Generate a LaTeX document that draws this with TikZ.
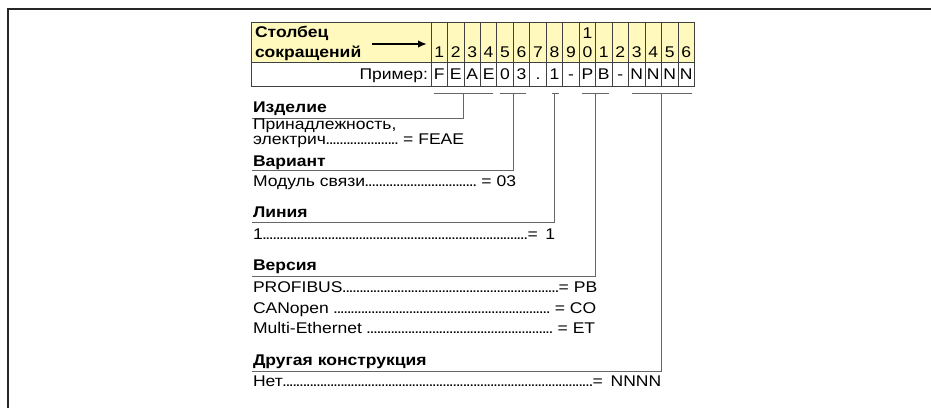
\documentclass[tikz,border=0pt]{standalone}
\usepackage{fontspec}
\setmainfont{Liberation Sans}[FakeStretch=1.13]
\usetikzlibrary{arrows.meta}
\definecolor{hdr}{HTML}{FFF9BD}
\newcommand{\fsz}{\fontsize{15.5pt}{15.5pt}\selectfont}
\newcommand{\dotlead}{\xleaders\hbox to 3.4pt{\hss.\hss}\hfill}
\begin{document}
\begin{tikzpicture}[x=1pt,y=-1pt,
  txt/.style={inner sep=0pt, outer sep=0pt, font=\fsz},
  bld/.style={txt, font=\fsz\bfseries},
  grid/.style={draw=black!75, line width=0.8pt},
  brk/.style={draw=black!60, line width=0.9pt},
  frame/.style={draw=black!85, line width=1.6pt}]
\useasboundingbox (0,0) rectangle (931,408);
% outer frame
\coordinate (fTR) at (931,9);
\coordinate (fTL) at (8,9);
\coordinate (fBL) at (8,408);
\draw[frame] (fTR) -- (fTL) -- (fBL);
% table
\fill[hdr] (251,22) rectangle (694.4,62);
\draw[grid] (251,22) rectangle (694.4,86);
\draw[grid] (251,62) -- (694.4,62);
\foreach \i in {0,...,15} \draw[grid] ({431+16.46*\i},22) -- ({431+16.46*\i},86);
% header text
\node[bld, anchor=base west] (h1) at (255,37.5) {Столбец};
\node[bld, anchor=base west] (h2) at (255,57) {сокращений};
\coordinate (arrS) at (372,44);
\coordinate (arrE) at (427,44);
\draw[line width=1.9pt, -{Latex[length=9pt,width=7.5pt]}] (arrS) -- (arrE);
\foreach \d [count=\k] in {1,2,3,4,5,6,7,8,9,0,1,2,3,4,5,6}
  \node[txt, anchor=base] (d\k) at ({431+16.46*(\k-0.5)},57.5) {\d};
\node[txt, anchor=base] (d10top) at ({431+16.46*9.5},38) {1};
\node[txt, anchor=base east] (ex) at (428,79.5) {Пример:};
\foreach \e [count=\k] in {F,E,A,E,0,3,.,1,-,P,B,-,N,N,N,N}
  \node[txt, anchor=base] (e\k) at ({431+16.46*(\k-0.5)},79.5) {\e};
% bracket coordinates
\coordinate (b1l) at (434,93);   \coordinate (b1r) at (493,93);   \coordinate (b1m) at (463.9,93);
\coordinate (b2l) at (500,93);   \coordinate (b2r) at (526,93);   \coordinate (b2m) at (513.3,93);
\coordinate (b3l) at (552,93);   \coordinate (b3r) at (558.5,93); \coordinate (b3m) at (554.9,93);
\coordinate (b4l) at (581.5,93); \coordinate (b4r) at (608.5,93); \coordinate (b4m) at (595.6,93);
\coordinate (b5l) at (632,93);   \coordinate (b5r) at (692,93);   \coordinate (b5m) at (661.4,93);
\coordinate (r1) at (252,118);
\coordinate (r2) at (252,170.5);
\coordinate (r3) at (252,222.7);
\coordinate (r4) at (252,276);
\coordinate (r5) at (252,371);
\foreach \n in {1,...,5} {
  \draw[brk] (b\n l) -- (b\n r);
  \draw[brk] (b\n m) |- (r\n);
}
% legend texts
\node[bld, anchor=base west] (t1) at (253,112.5) {Изделие};
\node[txt, anchor=base west] (t1a) at (253,129.3) {Принадлежность,};
\node[txt, anchor=base west] (t1b) at (253,144.6) {\hbox to 211pt{электрич\dotlead\ = FEAE}};
\node[bld, anchor=base west] (t2) at (253,166) {Вариант};
\node[txt, anchor=base west] (t2a) at (253,186) {\hbox to 263pt{Модуль связи\dotlead\ = 03}};
\node[bld, anchor=base west] (t3) at (253,217) {Линия};
\node[txt, anchor=base west] (t3a) at (253,239.3) {\hbox to 302pt{1\dotlead=\enspace 1}};
\node[bld, anchor=base west] (t4) at (253,270) {Версия};
\node[txt, anchor=base west] (t4a) at (253,292.7) {\hbox to 344pt{PROFIBUS\dotlead= PB}};
\node[txt, anchor=base west] (t4b) at (253,313.3) {\hbox to 343pt{CANopen \dotlead\ = CO}};
\node[txt, anchor=base west] (t4c) at (253,333.3) {\hbox to 342pt{Multi-Ethernet \dotlead\ = ET}};
\node[bld, anchor=base west] (t5) at (253,365) {Другая конструкция};
\node[txt, anchor=base west] (t5a) at (253,386.7) {\hbox to 408pt{Нет\dotlead=\enspace NNNN}};
\end{tikzpicture}
\end{document}
